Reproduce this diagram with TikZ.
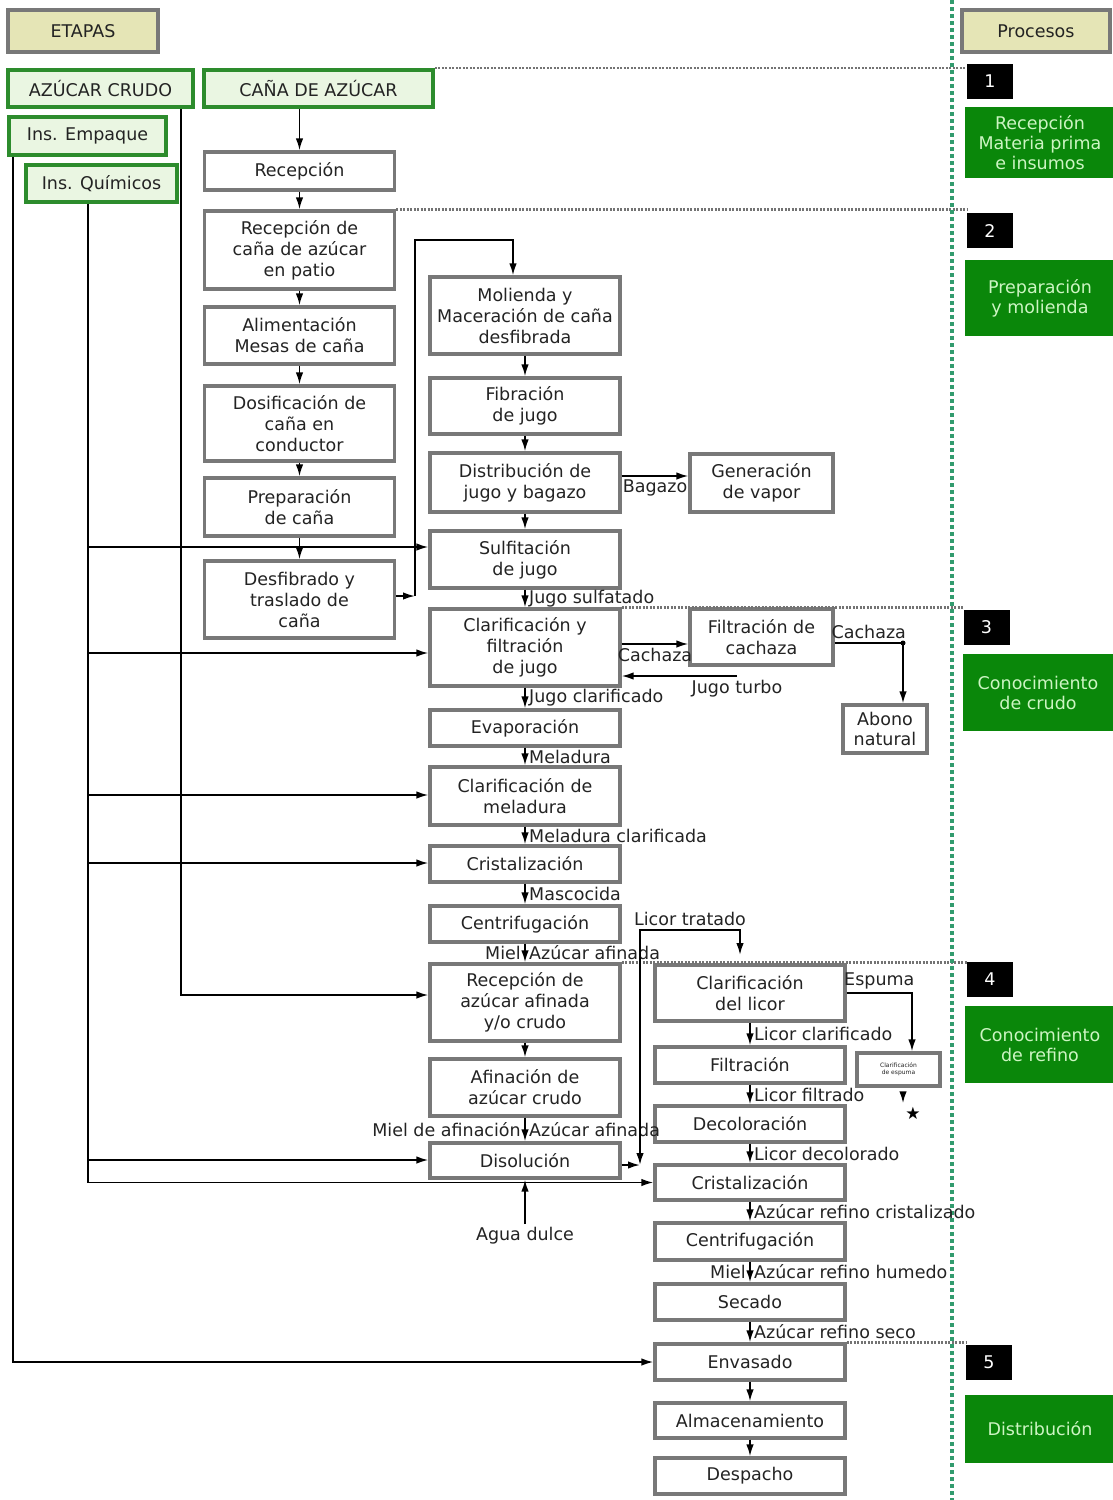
\documentclass[tikz,border=0pt]{standalone}
\usepackage{fontspec}
\setmainfont{DejaVu Sans}
\usetikzlibrary{arrows.meta}
\definecolor{boxgray}{RGB}{120,120,120}
\definecolor{txtgray}{RGB}{35,35,35}
\definecolor{lgreen}{RGB}{234,246,226}
\definecolor{dgreen}{RGB}{45,140,45}
\definecolor{pgreen}{RGB}{10,135,10}
\definecolor{ptext}{RGB}{205,245,195}
\definecolor{khaki}{RGB}{229,229,182}
\definecolor{dotgreen}{RGB}{50,155,110}

\begin{document}
\begin{tikzpicture}[x=1pt, y=-1pt,
  every node/.style={font=\fontsize{17.5}{21}\selectfont, text=txtgray},
  box/.style={draw=boxgray, line width=3.2pt, fill=white, align=center,
              inner sep=1pt, minimum width=190pt},
  inbox/.style={draw=dgreen, line width=3.8pt, fill=lgreen, inner sep=2pt},
  head/.style={draw=boxgray, line width=3.2pt, fill=khaki, minimum height=42pt},
  numbox/.style={fill=black, text=white, minimum width=46pt, minimum height=35pt, inner sep=0pt},
  pbox/.style={fill=pgreen, text=ptext, align=center, inner sep=0pt,
               minimum width=150pt, font=\fontsize{17.5}{20}\selectfont},
  arr/.style={-{Latex[length=12pt,width=7.5pt]}, line width=1.8pt},
  arrtwo/.style={{Latex[length=12pt,width=7.5pt]}-{Latex[length=12pt,width=7.5pt]}, line width=1.8pt},
  sep/.style={draw=gray!90!black, line width=2.5pt, dash pattern=on 2pt off 1.5pt},
]
  \useasboundingbox (0,0) rectangle (1113,1500);

  % headers and inputs
  \node[head, minimum width=150pt] (etapas) at (83,31) {ETAPAS};
  \node[head, minimum width=148pt] (procesos) at (1036,31) {Procesos};
  \node[inbox, minimum width=185pt, minimum height=37pt] (crudo) at (100.5,88.5) {AZÚCAR CRUDO};
  \node[inbox, minimum width=229pt, minimum height=37pt] (cana) at (318.5,88.5) {CAÑA DE AZÚCAR};
  \node[inbox, minimum width=157pt, minimum height=38pt] (empaque) at (87.5,136) {Ins. Empaque};
  \node[inbox, minimum width=151pt, minimum height=37pt] (quimicos) at (101.5,183.5) {Ins. Químicos};

  % cane column
  \node[box, minimum height=38pt] (rec) at (299.5,171) {Recepción};
  \node[box, minimum height=78pt] (rcp) at (299.5,250) {Recepción de\\caña de azúcar\\en patio};
  \node[box, minimum height=57pt] (ali) at (299.5,335.5) {Alimentación\\Mesas de caña};
  \node[box, minimum height=75pt] (dos) at (299.5,423.5) {Dosificación de\\caña en\\conductor};
  \node[box, minimum height=58pt] (pre) at (299.5,507) {Preparación\\de caña};
  \node[box, minimum height=77pt] (des) at (299.5,599.5) {Desfibrado y\\traslado de\\caña};

  % raw sugar column
  \node[box, minimum height=77pt] (mol) at (525,315.5) {Molienda y\\Maceración de caña\\desfibrada};
  \node[box, minimum height=56pt] (fib) at (525,406) {Fibración\\de jugo};
  \node[box, minimum height=59pt] (dis) at (525,482.5) {Distribución de\\jugo y bagazo};
  \node[box, minimum height=57pt] (sul) at (525,559.5) {Sulfitación\\de jugo};
  \node[box, minimum height=77pt] (cla) at (525,647.5) {Clarificación y\\filtración\\de jugo};
  \node[box, minimum height=36pt] (eva) at (525,728) {Evaporación};
  \node[box, minimum height=58pt] (clm) at (525,796) {Clarificación de\\meladura};
  \node[box, minimum height=36pt] (cri) at (525,864) {Cristalización};
  \node[box, minimum height=36pt] (cen) at (525,924) {Centrifugación};
  \node[box, minimum height=77pt] (raz) at (525,1002.5) {Recepción de\\azúcar afinada\\y/o crudo};
  \node[box, minimum height=57pt] (afi) at (525,1087.5) {Afinación de\\azúcar crudo};
  \node[box, minimum height=35pt] (dil) at (525,1160.5) {Disolución};
  \node (agua) at (525,1236) {Agua dulce};

  % side boxes
  \node[box, minimum width=143pt, minimum height=58pt] (gen) at (761.5,483) {Generación\\de vapor};
  \node[box, minimum width=143pt, minimum height=56pt] (fca) at (761.5,637) {Filtración de\\cachaza};
  \node[box, minimum width=84pt, minimum height=48pt, inner sep=0pt,
        font=\fontsize{17.5}{20}\selectfont] (abo) at (885,729) {Abono\\natural};

  % refined sugar column
  \node[box, minimum height=56pt] (cll) at (750,993) {Clarificación\\del licor};
  \node[box, minimum height=36pt] (fil) at (750,1065) {Filtración};
  \node[box, minimum width=83pt, minimum height=33pt, font=\fontsize{6}{7}\selectfont] (ces) at (898.5,1069.5) {Clarificación\\de espuma};
  \node[font=\fontsize{17}{17}\selectfont, text=black] (star) at (913,1113) {★};
  \node[box, minimum height=36pt] (dec) at (750,1124) {Decoloración};
  \node[box, minimum height=35pt] (crr) at (750,1182.5) {Cristalización};
  \node[box, minimum height=37pt] (cer) at (750,1241.5) {Centrifugación};
  \node[box, minimum height=36pt] (sec) at (750,1302) {Secado};
  \node[box, minimum height=36pt] (env) at (750,1362) {Envasado};
  \node[box, minimum height=35pt] (alm) at (750,1420.5) {Almacenamiento};
  \node[box, minimum height=36pt] (dsp) at (750,1476) {Despacho};

  % process stages
  \node[numbox] (n1) at (990,81.5) {1};
  \node[numbox] (n2) at (990,230.5) {2};
  \node[numbox] (n3) at (986.5,627.5) {3};
  \node[numbox] (n4) at (990,979.5) {4};
  \node[numbox] (n5) at (989,1362.5) {5};
  \node[pbox, minimum height=71pt] (p1) at (1040,142.5) {Recepción\\Materia prima\\e insumos};
  \node[pbox, minimum height=76pt] (p2) at (1040,298) {Preparación\\y molienda};
  \node[pbox, minimum height=77pt] (p3) at (1038,692.5) {Conocimiento\\de crudo};
  \node[pbox, minimum height=77pt] (p4) at (1040,1044.5) {Conocimiento\\de refino};
  \node[pbox, minimum height=68pt] (p5) at (1040,1429) {Distribución};

  % stage separators
  \draw[sep] (cana.north east) -- (n1.west |- cana.north east);
  \draw[sep] (rcp.north east) -- (n2.west |- rcp.north east);
  \draw[sep] (cla.north east) -- (n3.west |- cla.north east);
  \draw[sep] (raz.north east) -- (n4.west |- raz.north east);
  \draw[sep] (env.north east) -- (n5.west |- env.north east);
  \draw[dotgreen, line width=3.5pt, dash pattern=on 3.5pt off 3.5pt] (952,0) -- (952,1500);

  % cane preparation
  \draw[arr] (cana.south -| rec) -- (rec);
  \draw[arr] (rec) -- (rcp);
  \draw[arr] (rcp) -- (ali);
  \draw[arr] (ali) -- (dos);
  \draw[arr] (dos) -- (pre);
  \draw[arr] (pre) -- (des);
  \coordinate (dj) at (415,596);
  \draw[arr] (des.east |- dj) -- (dj);
  \draw[arr] (dj) |- (513,240) -- (mol.north -| 513,0);

  % raw sugar
  \draw[arr] (mol) -- (fib);
  \draw[arr] (fib) -- (dis);
  \draw[arr] (dis) -- (sul);
  \draw[arr] (dis.east |- 0,476) -- (gen.west |- 0,476) node[midway,below]{Bagazo};
  \draw[arr] (sul) -- (cla) node[midway,right]{Jugo sulfatado};
  \draw[arr] (cla.east |- 0,644) -- (fca.west |- 0,644) node[midway,below]{Cachaza};
  \coordinate (turbo) at (737,676);
  \draw[arr] (turbo) -- (cla.east |- turbo) node[pos=0,below]{Jugo turbo};
  \draw[arr] (fca.east |- 0,643) -- (903,643) node[midway,above]{Cachaza} -- (abo.north -| 903,0);
  \fill (903,643) circle (2.5pt);
  \draw[arr] (cla) -- (eva) node[midway,right]{Jugo clarificado};
  \draw[arr] (eva) -- (clm) node[midway,right]{Meladura};
  \draw[arr] (clm) -- (cri) node[midway,right]{Meladura clarificada};
  \draw[arr] (cri) -- (cen) node[midway,right]{Mascocida};
  \draw[arr] (cen) -- (raz) node[midway,left]{Miel} node[midway,right]{Azúcar afinada};
  \draw[arr] (raz) -- (afi);
  \draw[arr] (afi) -- (dil) node[midway,left]{Miel de afinación} node[midway,right]{Azúcar afinada};
  \draw[arr] (agua) -- (dil);

  % treated liquor
  \coordinate (lq) at (640,1165);
  \coordinate (lt) at (740,955);
  \draw[arr] (dil.east |- lq) -- (lq);
  \draw[arrtwo] (lq) |- (lt |- 0,930) node[pos=0.75,above]{Licor tratado} -- (lt);

  % refining
  \draw[arr] (cll) -- (fil) node[midway,right]{Licor clarificado};
  \draw[arr] (cll.east) -- (912,993) node[midway,above]{Espuma} -- (ces.north -| 912,0);
  \draw[arr] (ces.south -| 903,0) ++(0,6) -- (star.north -| 903,0);
  \draw[arr] (fil) -- (dec) node[midway,right]{Licor filtrado};
  \draw[arr] (dec) -- (crr) node[midway,right]{Licor decolorado};
  \draw[arr] (crr) -- (cer) node[midway,right]{Azúcar refino cristalizado};
  \draw[arr] (cer) -- (sec) node[midway,left]{Miel} node[midway,right]{Azúcar refino humedo};
  \draw[arr] (sec) -- (env) node[midway,right]{Azúcar refino seco};
  \draw[arr] (env) -- (alm);
  \draw[arr] (alm) -- (dsp);

  % inputs
  \draw[arr] (empaque.south -| 13,0) |- (env.west);
  \draw[arr] (crudo.south -| 181,0) |- (raz.west |- 0,995);
  \draw[arr] (quimicos.south -| 88,0) |- (crr.west);
  \draw[arr] (88,547) -- (sul.west |- 0,547);
  \draw[arr] (88,653) -- (cla.west |- 0,653);
  \draw[arr] (88,795) -- (clm.west |- 0,795);
  \draw[arr] (88,863) -- (cri.west |- 0,863);
  \draw[arr] (88,1160) -- (dil.west |- 0,1160);
\end{tikzpicture}
\end{document}
